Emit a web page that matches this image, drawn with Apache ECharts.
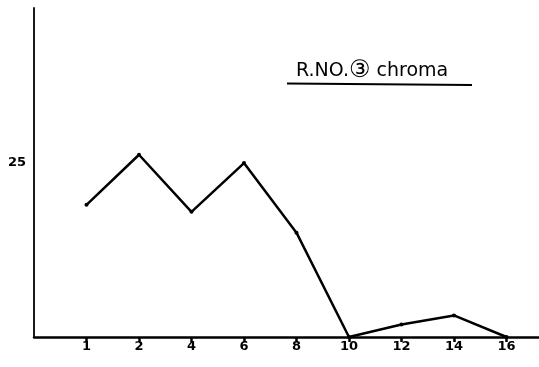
<!DOCTYPE html>
<html><head><meta charset="utf-8">
<script src="https://cdn.jsdelivr.net/npm/echarts@6/dist/echarts.min.js"></script>
<style>html,body{margin:0;padding:0;background:#fff}#c{width:539px;height:367px}</style>
</head><body><div id="c"></div>
<script>
const categories = ['1','2','4','6','8','10','12','14','16'];
const chroma = [19.0, 26.2, 18.0, 25.0, 15.0, 0, 1.8, 3.1, 0];
const yTickLabels = [25];
const titleParts = ['R.NO.', '\u2462', ' chroma'];

const positions = categories.map((c, i) => i + 1);
const chart = echarts.init(document.getElementById('c'), null, {renderer: 'canvas'});
chart.setOption({
  animation: false,
  backgroundColor: '#fff',
  grid: {left: 34, right: 0, top: 8, bottom: 30, containLabel: false},
  xAxis: {
    type: 'value', min: 0, max: 9.62,
    axisLine: {show: true, onZero: false, lineStyle: {color: '#000', width: 2.5}},
    axisTick: {show: true, length: 5, customValues: positions, lineStyle: {color: '#000', width: 2.5}},
    axisLabel: {
      customValues: positions,
      formatter: v => categories[Math.round(v) - 1] || '',
      color: '#000', fontFamily: 'DejaVu Sans', fontWeight: 'bold', fontSize: 13, margin: 3
    },
    splitLine: {show: false}
  },
  yAxis: {
    type: 'value', min: 0, max: 47.3,
    axisLine: {show: true, lineStyle: {color: '#000', width: 1.8}},
    axisTick: {show: false},
    axisLabel: {
      customValues: yTickLabels,
      color: '#000', fontFamily: 'DejaVu Sans', fontWeight: 'bold', fontSize: 13, margin: 8
    },
    splitLine: {show: false}
  },
  series: [{
    type: 'line',
    data: chroma.map((v, i) => [positions[i], v]),
    showSymbol: true, symbol: 'circle', symbolSize: 4,
    itemStyle: {color: '#000'},
    lineStyle: {color: '#000', width: 2.5}
  }],
  graphic: [
    {type: 'text', left: 296, top: 59, style: {
      text: '{a|' + titleParts[0] + '}{b|' + titleParts[1] + '}{a|' + titleParts[2] + '}',
      rich: {
        a: {fill: '#000', fontFamily: 'DejaVu Sans', fontSize: 19},
        b: {fill: '#000', fontFamily: 'DejaVu Sans', fontSize: 24}
      }
    }},
    {type: 'line', shape: {x1: 287, y1: 83.5, x2: 472, y2: 85}, style: {stroke: '#000', lineWidth: 2}}
  ]
});
</script></body></html>
